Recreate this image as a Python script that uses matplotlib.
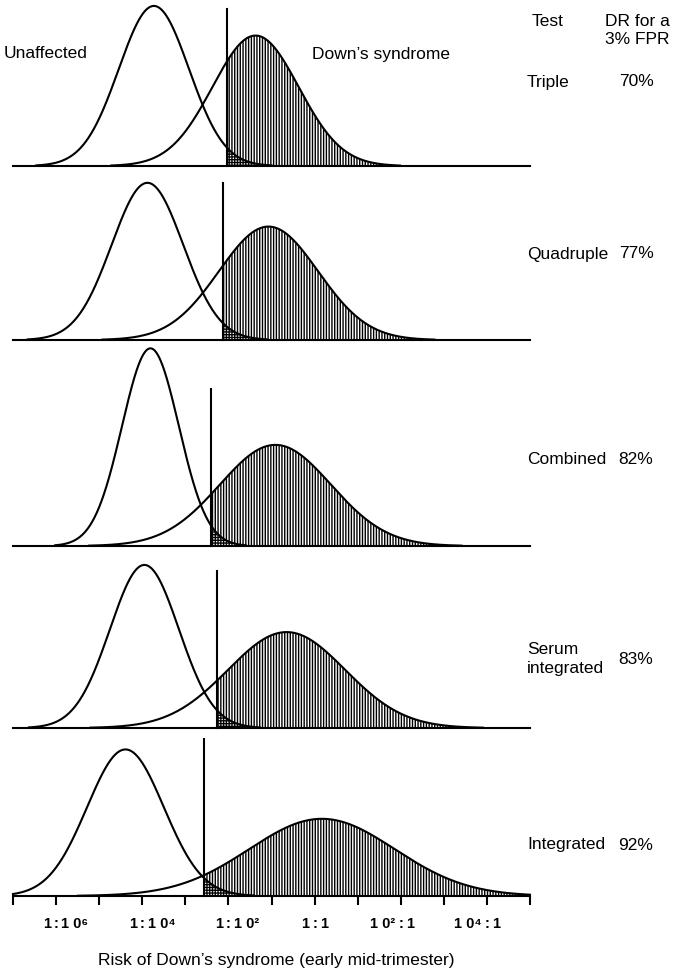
########################
## Screening test risk distributions
########################

import numpy as np
import matplotlib.pyplot as plt

# Tests and detection rates at a 3% false-positive rate
tests = ['Triple', 'Quadruple', 'Combined', 'Serum\nintegrated', 'Integrated']
detection_rates = [70, 77, 82, 83, 92]

# Log10 risk distributions (mean, SD) for unaffected and Down's syndrome pregnancies
unaffected_mean = [-3.73, -3.88, -3.81, -3.95, -4.39]
unaffected_sd = [0.815, 0.83, 0.66, 0.80, 0.89]
downs_mean = [-1.37, -1.07, -0.91, -0.65, 0.17]
downs_sd = [1.00, 1.15, 1.29, 1.36, 1.69]
# Risk cut-off (log10) giving the 3% false-positive rate
cutoffs = [-2.03, -2.13, -2.41, -2.27, -2.56]

# Axis ticks (log10 of odds) and their labels, split at the colon
tick_values = [-7, -6, -5, -4, -3, -2, -1, 0, 1, 2, 3, 4, 5]
label_values = [-6, -4, -2, 0, 2, 4]
label_left = ['1', '1', '1', '1', '1 0²', '1 0⁴']
label_right = ['1 0⁶', '1 0⁴', '1 0²', '1', '1', '1']

plt.rcParams['font.family'] = ['Liberation Sans', 'DejaVu Sans']
plt.rcParams['hatch.linewidth'] = 1.0

W, H = 673, 973
fig = plt.figure(figsize=(W / 100, H / 100), dpi=100)

# Layout in pixels
x_left, x_right = 13, 530
baselines = [166, 340, 546, 728, 896]
label_rows = [82, 254, 460, 659, 845]
px_per_density = 327
y_top = 0.62
cut_height = 0.48
tail = 3.35


def npdf(x, m, s):
    return np.exp(-0.5 * ((x - m) / s) ** 2) / (s * np.sqrt(2 * np.pi))


for i in range(len(tests)):
    ax = fig.add_axes([x_left / W, 1 - baselines[i] / H,
                       (x_right - x_left) / W, y_top * px_per_density / H])
    ax.set_xlim(-7, 5)
    ax.set_ylim(0, y_top)
    ax.patch.set_visible(False)
    for side in ['top', 'left', 'right']:
        ax.spines[side].set_visible(False)
    ax.spines['bottom'].set_linewidth(1.5)
    ax.set_yticks([])

    mu_u, sd_u = unaffected_mean[i], unaffected_sd[i]
    mu_d, sd_d = downs_mean[i], downs_sd[i]
    c = cutoffs[i]

    # Curves, cut off in the tails
    xu = np.linspace(max(mu_u - tail * sd_u, -7), min(mu_u + tail * sd_u, 5), 400)
    xd = np.linspace(max(mu_d - tail * sd_d, -7), min(mu_d + tail * sd_d, 5), 400)
    ax.plot(xu, npdf(xu, mu_u, sd_u), color='black', lw=1.5, clip_on=False, zorder=3)
    ax.plot(xd, npdf(xd, mu_d, sd_d), color='black', lw=1.5, clip_on=False, zorder=3)

    # Screen positives: detected cases (vertical) and false positives (adds horizontals)
    xr_d = np.linspace(c, xd[-1], 300)
    ax.fill_between(xr_d, 0, npdf(xr_d, mu_d, sd_d), facecolor='none',
                    edgecolor='black', linewidth=0, hatch='||||||', zorder=1)
    xr_u = np.linspace(c, xu[-1], 200)
    ax.fill_between(xr_u, 0, npdf(xr_u, mu_u, sd_u), facecolor='none',
                    edgecolor='black', linewidth=0, hatch='------', zorder=1)

    # Cut-off line
    ax.plot([c, c], [0, cut_height], color='black', lw=1.5, clip_on=False, zorder=3)

    # Test name and detection rate
    fig.text(527 / W, 1 - label_rows[i] / H, tests[i], fontsize=12.5,
             ha='left', va='center', linespacing=1.25)
    fig.text(636 / W, 1 - label_rows[i] / H, '%d%%' % detection_rates[i],
             fontsize=12.5, ha='center', va='center')

    if i == len(tests) - 1:
        ax.set_xticks(tick_values)
        ax.tick_params(axis='x', direction='out', length=6.5, width=1.5,
                       labelbottom=False)
        # Labels aligned on the colon
        trans = ax.get_xaxis_transform()
        for v, lft, rgt in zip(label_values, label_left, label_right):
            kw = dict(xycoords=trans, textcoords='offset points', va='baseline',
                      fontsize=10.5, fontweight='bold')
            ax.annotate(lft, xy=(v, 0), xytext=(-3.8, -23.0), ha='right', **kw)
            ax.annotate(':', xy=(v, 0), xytext=(0, -23.0), ha='center', **kw)
            ax.annotate(rgt, xy=(v, 0), xytext=(3.8, -23.0), ha='left', **kw)
    else:
        ax.set_xticks([])

# Distribution names in the top panel
fig.text(4 / W, 1 - 54 / H, 'Unaffected', fontsize=12.5, ha='left', va='center')
fig.text(312 / W, 1 - 55 / H, 'Down’s syndrome', fontsize=12.5, ha='left', va='center')

# Column headings
fig.text(532 / W, 1 - 22 / H, 'Test', fontsize=12.5, ha='left', va='center')
fig.text(605 / W, 1 - 22 / H, 'DR for a', fontsize=12.5, ha='left', va='center')
fig.text(605 / W, 1 - 40 / H, '3% FPR', fontsize=12.5, ha='left', va='center')

fig.text(276 / W, 1 - 960 / H, 'Risk of Down’s syndrome (early mid-trimester)',
         fontsize=12.5, ha='center', va='center')

fig.savefig('out.png', dpi=100)
